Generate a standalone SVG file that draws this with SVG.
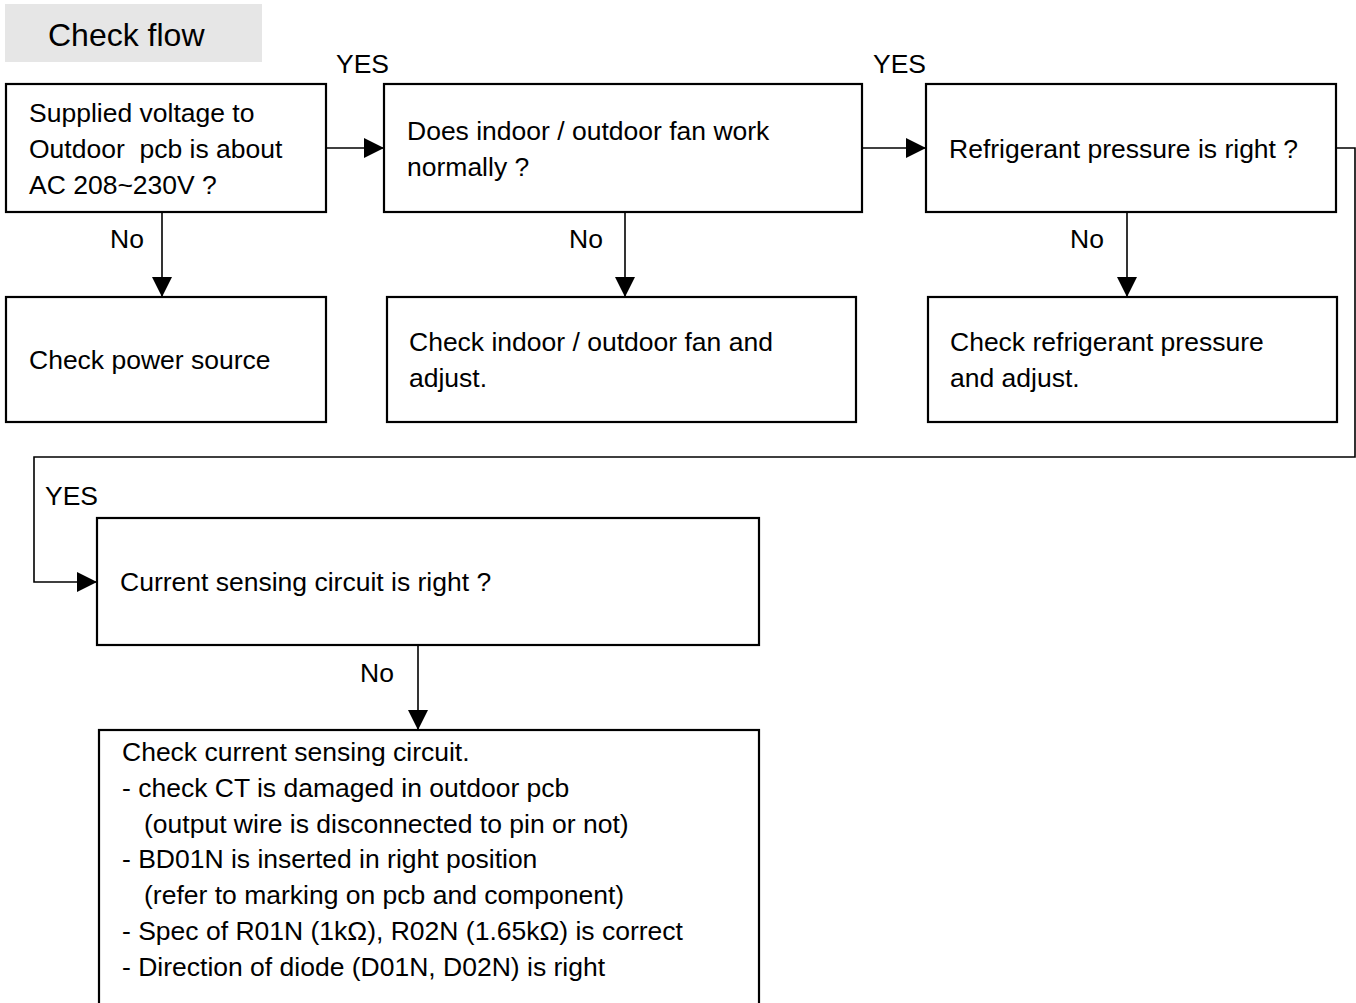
<svg xmlns="http://www.w3.org/2000/svg" width="1356" height="1003" viewBox="0 0 1356 1003">
<style>
  .box { fill: #ffffff; stroke: #000000; stroke-width: 2.2; }
  .t { font-family: "Liberation Sans", Arial, Helvetica, sans-serif; font-size: 26.5px; fill: #000000; white-space: pre; }
  .hdr { font-family: "Liberation Sans", Arial, Helvetica, sans-serif; font-size: 32px; fill: #000000; }
  .conn { fill: none; stroke: #000000; stroke-width: 1.6; }
</style>
<defs>
  <marker id="arrow" markerUnits="userSpaceOnUse" markerWidth="20" markerHeight="20" viewBox="0 0 20 20" refX="20" refY="10" orient="auto">
    <path d="M0,0 L20,10 L0,20 Z" fill="#000000"/>
  </marker>
</defs>
<rect width="1356" height="1003" fill="#ffffff"/>

<g id="header">
  <rect x="5" y="4" width="257" height="58" fill="#e6e6e6"/>
  <text class="hdr" x="48" y="46">Check flow</text>
</g>

<g id="connectors">
  <path class="conn" d="M326,148 L384,148" marker-end="url(#arrow)"/>
  <path class="conn" d="M862,148 L926,148" marker-end="url(#arrow)"/>
  <path class="conn" d="M162,212 L162,297" marker-end="url(#arrow)"/>
  <path class="conn" d="M625,212 L625,297" marker-end="url(#arrow)"/>
  <path class="conn" d="M1127,212 L1127,297" marker-end="url(#arrow)"/>
  <path class="conn" d="M1336,148 L1355,148 L1355,457 L34,457 L34,582 L97,582" marker-end="url(#arrow)"/>
  <path class="conn" d="M418,645 L418,730" marker-end="url(#arrow)"/>
  <text class="t" x="336" y="73">YES</text>
  <text class="t" x="873" y="73">YES</text>
  <text class="t" x="110" y="248">No</text>
  <text class="t" x="569" y="248">No</text>
  <text class="t" x="1070" y="248">No</text>
  <text class="t" x="45" y="505">YES</text>
  <text class="t" x="360" y="682">No</text>
</g>

<g id="node-voltage">
  <rect class="box" x="6" y="84" width="320" height="128"/>
  <text class="t" x="29" y="122">Supplied voltage to</text>
  <text class="t" x="29" y="158" xml:space="preserve">Outdoor  pcb is about</text>
  <text class="t" x="29" y="194">AC 208~230V ?</text>
</g>

<g id="node-fan">
  <rect class="box" x="384" y="84" width="478" height="128"/>
  <text class="t" x="407" y="140">Does indoor / outdoor fan work</text>
  <text class="t" x="407" y="176">normally ?</text>
</g>

<g id="node-pressure">
  <rect class="box" x="926" y="84" width="410" height="128"/>
  <text class="t" x="949" y="158">Refrigerant pressure is right ?</text>
</g>

<g id="node-power">
  <rect class="box" x="6" y="297" width="320" height="125"/>
  <text class="t" x="29" y="369">Check power source</text>
</g>

<g id="node-fan-adjust">
  <rect class="box" x="387" y="297" width="469" height="125"/>
  <text class="t" x="409" y="351">Check indoor / outdoor fan and</text>
  <text class="t" x="409" y="387">adjust.</text>
</g>

<g id="node-pressure-adjust">
  <rect class="box" x="928" y="297" width="409" height="125"/>
  <text class="t" x="950" y="351">Check refrigerant pressure</text>
  <text class="t" x="950" y="387">and adjust.</text>
</g>

<g id="node-current">
  <rect class="box" x="97" y="518" width="662" height="127"/>
  <text class="t" x="120" y="591">Current sensing circuit is right ?</text>
</g>

<g id="node-current-check">
  <rect class="box" x="99" y="730" width="660" height="290"/>
  <text class="t" x="122" y="761">Check current sensing circuit.</text>
  <text class="t" x="122" y="797">- check CT is damaged in outdoor pcb</text>
  <text class="t" x="144" y="833">(output wire is disconnected to pin or not)</text>
  <text class="t" x="122" y="868">- BD01N is inserted in right position</text>
  <text class="t" x="144" y="904">(refer to marking on pcb and component)</text>
  <text class="t" x="122" y="940">- Spec of R01N (1kΩ), R02N (1.65kΩ) is correct</text>
  <text class="t" x="122" y="976">- Direction of diode (D01N, D02N) is right</text>
</g>
</svg>
